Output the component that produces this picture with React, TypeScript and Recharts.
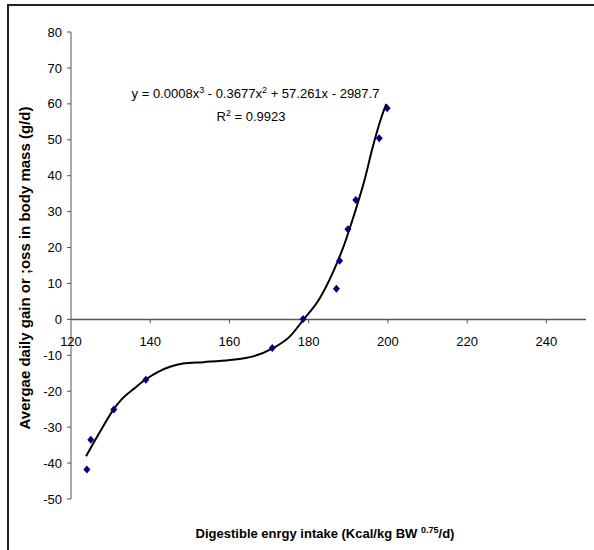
import React from "react";
import { ComposedChart, XAxis, YAxis, Line, Scatter, ReferenceLine } from "recharts";

// Observed data (digestible energy intake vs daily gain)
const obsX = [124.0, 125.0, 130.8, 138.9, 170.8, 178.6, 187.0, 187.8, 189.9, 191.9, 197.8, 199.8];
const obsY = [-41.8, -33.5, -25.1, -16.8, -8.0, 0.1, 8.5, 16.3, 25.1, 33.2, 50.4, 58.8];

// Trend line
const trendX = [123.8, 126.0, 128.1, 130.7, 133.0, 136.0, 139.0, 142.0, 145.0, 148.3, 153.4, 160.1, 166.0, 171.0, 175.2, 178.6, 182.8, 186.2, 189.1, 191.6, 194.1, 196.2, 198.4, 199.6];
const trendY = [-38.1, -33.8, -29.8, -25.1, -22.0, -19.2, -16.6, -14.6, -13.2, -12.3, -11.9, -11.3, -10.3, -8.0, -4.8, -0.2, 5.9, 13.3, 21.2, 29.6, 38.8, 48.1, 56.4, 60.0];

const xTicks = [120, 140, 160, 180, 200, 220, 240];
const yTicks = [-50, -40, -30, -20, -10, 0, 10, 20, 30, 40, 50, 60, 70, 80];
const xDomain = [120, 250];
const yDomain = [-50, 80];

const points = obsX.map((x, i) => ({ x, y: obsY[i] }));
const trend = trendX.map((x, i) => ({ x, y: trendY[i] }));
const xTickData = xTicks.map((x) => ({ x, y: 0 }));

const FONT = "'Liberation Sans', Arial, sans-serif";

const Diamond = (props: any) => {
  const { cx, cy } = props;
  if (cx == null || cy == null) return null;
  return (
    <polygon
      points={`${cx},${cy - 4} ${cx + 3.5},${cy} ${cx},${cy + 4} ${cx - 3.5},${cy}`}
      fill="#000080"
    />
  );
};

const XTickMark = (props: any) => {
  const { cx, cy, payload } = props;
  if (cx == null || cy == null) return null;
  const first = payload.x === xTicks[0];
  return (
    <g>
      {!first && <line x1={cx} y1={cy} x2={cx} y2={cy + 4} stroke="#555" strokeWidth={1} />}
      <text x={cx} y={cy + 27} textAnchor="middle" fontFamily={FONT} fontSize={13} fill="#000">
        {payload.x}
      </text>
    </g>
  );
};

export default function App() {
  return (
    <div style={{ position: "absolute", left: 0, top: 0, width: 594, height: 550, overflow: "hidden", background: "#fff" }}>
      <div
        style={{
          position: "absolute",
          left: 7,
          top: 4,
          width: 700,
          height: 700,
          borderTop: "2px solid #222",
          borderLeft: "2px solid #222",
        }}
      />
      <div style={{ position: "absolute", left: 0, top: 0 }}>
        <ComposedChart width={594} height={550} margin={{ top: 32, right: 8, bottom: 51, left: 0 }} style={{ overflow: "visible" }}>
          <XAxis type="number" dataKey="x" domain={xDomain} hide />
          <YAxis
            type="number"
            dataKey="y"
            domain={yDomain}
            ticks={yTicks}
            width={71}
            interval={0}
            tickSize={4}
            tickMargin={5}
            axisLine={{ stroke: "#555", strokeWidth: 1 }}
            tickLine={{ stroke: "#555", strokeWidth: 1 }}
            tick={{ fontFamily: FONT, fontSize: 13, fill: "#000" }}
          />
          <ReferenceLine y={0} stroke="#555" strokeWidth={1.5} />
          <Scatter data={xTickData} dataKey="y" shape={<XTickMark />} isAnimationActive={false} />
          <Line
            data={trend}
            dataKey="y"
            type="monotone"
            stroke="#000"
            strokeWidth={2}
            dot={false}
            activeDot={false}
            isAnimationActive={false}
          />
          <Scatter data={points} dataKey="y" shape={<Diamond />} isAnimationActive={false} />
        </ComposedChart>
      </div>
      <svg width={594} height={550} style={{ position: "absolute", left: 0, top: 0, pointerEvents: "none" }}>
        <text x={255.5} y={98} textAnchor="middle" fontFamily={FONT} fontSize={13} fill="#000">
          y = 0.0008x<tspan dy={-5} fontSize={9}>3</tspan>
          <tspan dy={5}> - 0.3677x</tspan>
          <tspan dy={-5} fontSize={9}>2</tspan>
          <tspan dy={5}> + 57.261x - 2987.7</tspan>
        </text>
        <text x={251} y={121} textAnchor="middle" fontFamily={FONT} fontSize={13} fill="#000">
          R<tspan dy={-5} fontSize={9}>2</tspan>
          <tspan dy={5}> = 0.9923</tspan>
        </text>
        <text
          x={0}
          y={0}
          transform="translate(30,268) rotate(-90)"
          textAnchor="middle"
          fontFamily={FONT}
          fontSize={15}
          fontWeight="bold"
          fill="#000"
        >
          Avergae daily gain or ;oss in body mass (g/d)
        </text>
        <text x={325} y={538} textAnchor="middle" fontFamily={FONT} fontSize={13} fontWeight="bold" fill="#000">
          Digestible enrgy intake (Kcal/kg BW <tspan dy={-5} fontSize={9}>0.75</tspan>
          <tspan dy={5}>/d)</tspan>
        </text>
      </svg>
    </div>
  );
}
